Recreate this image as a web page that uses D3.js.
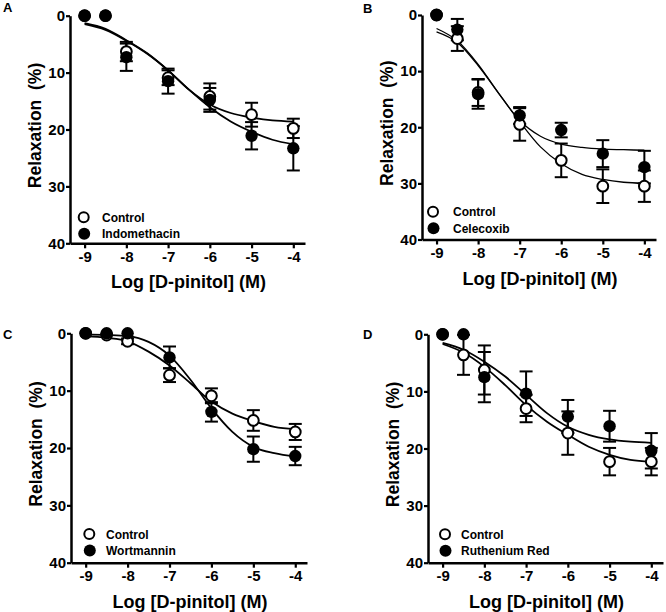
<!DOCTYPE html>
<html><head><meta charset="utf-8">
<script src="https://cdn.jsdelivr.net/npm/d3@7/dist/d3.min.js"></script>
<style>
html,body{margin:0;padding:0;background:#fff;}
svg{display:block;font-family:"Liberation Sans",Arial,sans-serif;font-weight:bold;}
</style></head>
<body>
<svg id="chart" width="666" height="612"></svg>
<script>
// ---- shared axes / doses ----
const xTicks = [-9, -8, -7, -6, -5, -4];
const yTicks = [0, 10, 20, 30, 40];
const doses = [-9, -8.5, -8, -7, -6, -5, -4];
const fitX = [-9, -8.5, -8, -7.5, -7, -6.5, -6, -5.5, -5, -4.5, -4];
const xTitle = "Log [D-pinitol] (M)";
const yTitle = "Relaxation  (%)";
const panelLetters = ["A", "B", "C", "D"];
const treatmentNames = ["Indomethacin", "Celecoxib", "Wortmannin", "Ruthenium Red"];

// ---- Panel A ----
const aControl    = [0, 0, 6.3, 10.9, 14.2, 17.4, 19.8];
const aControlErr = [0, 0, 1.7, 1.3, 2.3, 2.1, 1.7];
const aTreat      = [0, 0, 7.3, 11.5, 14.8, 21.1, 23.3];
const aTreatErr   = [0, 0, 2.4, 2.2, 2.1, 2.4, 3.9];
const aControlFit = [1.5, 2.5, 4.4, 6.7, 9.6, 13.0, 15.6, 17.1, 17.9, 18.4, 18.6];
const aTreatFit   = [1.3, 2.3, 4.3, 6.6, 9.6, 13.0, 16.1, 18.6, 20.4, 21.8, 22.6];

// ---- Panel B ----
const bControl    = [0, 4.2, 13.8, 19.5, 25.9, 30.5, 30.5];
const bControlErr = [0, 2.2, 2.4, 2.9, 3.0, 3.0, 2.8];
const bTreat      = [0, 2.6, 14.1, 17.9, 20.5, 24.7, 27.1];
const bTreatErr   = [0, 1.9, 2.6, 1.5, 1.3, 2.4, 2.9];
const bControlFit = [3.0, 4.9, 9.0, 14.0, 19.0, 23.5, 26.5, 28.4, 29.3, 29.8, 30.0];
const bTreatFit   = [2.4, 4.6, 8.8, 14.0, 18.8, 21.6, 23.0, 23.6, 23.9, 24.0, 24.1];

// ---- Panel C ----
const cControl    = [0, 0.3, 1.4, 7.3, 10.9, 15.2, 17.2];
const cControlErr = [0, 0, 0.5, 1.2, 1.3, 1.8, 1.4];
const cTreat      = [0, 0, 0, 4.2, 13.7, 20.2, 21.4];
const cTreatErr   = [0, 0, 0, 1.9, 1.7, 2.2, 1.6];
const cControlFit = [0.5, 0.8, 1.4, 3.2, 5.6, 8.7, 11.9, 14.0, 15.3, 16.3, 16.7];
const cTreatFit   = [0.2, 0.3, 0.5, 1.5, 3.9, 8.1, 13.1, 17.2, 19.8, 20.9, 21.5];

// ---- Panel D ----
const dControl    = [0, 3.6, 6.25, 13.0, 17.3, 22.3, 22.3];
const dControlErr = [0, 3.5, 4.3, 2.4, 3.8, 2.4, 2.4];
const dTreat      = [0, 0, 7.5, 10.4, 14.4, 16.1, 20.4];
const dTreatErr   = [0, 0, 4.4, 3.9, 2.9, 2.7, 3.1];
const dControlFit = [1.7, 3.2, 5.7, 8.9, 12.4, 15.3, 17.6, 19.7, 21.1, 22.0, 22.3];
const dTreatFit   = [1.5, 2.7, 4.8, 7.4, 10.6, 13.8, 16.2, 17.6, 18.4, 18.8, 19.0];

// ---- layout (positions only) ----
const layouts = [
  {x0: 70,  x1: 305, y0: 15.7,  y1: 243.3, letter: [3, 12],   leg: [83.7, 217.3, 102], curveW: 1.8},
  {x0: 422, x1: 656, y0: 15,    y1: 239.5, letter: [363, 13], leg: [433, 211.7, 453], curveW: 1.3},
  {x0: 71,  x1: 307, y0: 333.3, y1: 562.7, letter: [3, 339],  leg: [89.3, 534, 106], curveW: 1.8},
  {x0: 428, x1: 663, y0: 334.3, y1: 562.7, letter: [363, 339],leg: [445, 534.3, 461], curveW: 1.8}
];

const series = [
  [aControl, aControlErr, aTreat, aTreatErr, aControlFit, aTreatFit],
  [bControl, bControlErr, bTreat, bTreatErr, bControlFit, bTreatFit],
  [cControl, cControlErr, cTreat, cTreatErr, cControlFit, cTreatFit],
  [dControl, dControlErr, dTreat, dTreatErr, dControlFit, dTreatFit]
];

const svg = d3.select("#chart");
const xDomain = [-9.35, -3.72];
const fmt = d => String(d);

layouts.forEach((L, i) => {
  const [ctl, ctlErr, trt, trtErr, ctlFit, trtFit] = series[i];
  const x = d3.scaleLinear().domain(xDomain).range([L.x0, L.x1]);
  const y = d3.scaleLinear().domain([0, 40]).range([L.y0, L.y1]);
  const g = svg.append("g");

  // axes
  const yAxis = d3.axisLeft(y).tickValues(yTicks).tickFormat(fmt).tickSize(4).tickSizeOuter(0).tickPadding(1);
  const xAxis = d3.axisBottom(x).tickValues(xTicks).tickFormat(fmt).tickSize(5).tickSizeOuter(0).tickPadding(3);
  const ya = g.append("g").attr("transform", `translate(${L.x0},0)`).call(yAxis);
  const xa = g.append("g").attr("transform", `translate(0,${L.y1})`).call(xAxis);
  [ya, xa].forEach(a => {
    a.select(".domain").attr("stroke", "#000").attr("stroke-width", 2.5);
    a.selectAll(".tick line").attr("stroke", "#000").attr("stroke-width", 2.2);
    a.selectAll(".tick text").attr("fill", "#000")
      .style("font-size", "15px").style("font-weight", "bold")
      .style("font-family", '"Liberation Sans", Arial, sans-serif');
  });

  // titles
  g.append("text")
    .attr("x", (L.x0 + L.x1) / 2 + 1).attr("y", L.y1 + 45)
    .attr("text-anchor", "middle").style("font-size", "18px")
    .text(xTitle);
  g.append("text")
    .attr("transform", `translate(${L.x0 - 29},${(L.y0 + L.y1) / 2 - 4}) rotate(-90)`)
    .attr("text-anchor", "middle").style("font-size", "17.5px").style("white-space", "pre")
    .text(yTitle);
  g.append("text").attr("x", L.letter[0]).attr("y", L.letter[1])
    .style("font-size", "13px").text(panelLetters[i]);

  // fitted curves
  const line = d3.line().x(d => x(d[0])).y(d => y(d[1])).curve(d3.curveMonotoneX);
  [ctlFit, trtFit].forEach(fit => {
    g.append("path").datum(fitX.map((v, k) => [v, fit[k]]))
      .attr("d", line).attr("fill", "none").attr("stroke", "#000")
      .attr("stroke-width", L.curveW);
  });

  // error bars
  const cap = 6.5;
  [[ctl, ctlErr], [trt, trtErr]].forEach(([vals, errs]) => {
    const eg = g.append("g").attr("stroke", "#000").attr("stroke-width", 2);
    doses.forEach((d, k) => {
      if (!errs[k]) return;
      const cx = x(d), lo = y(vals[k] - errs[k]), hi = y(vals[k] + errs[k]);
      eg.append("line").attr("x1", cx).attr("x2", cx).attr("y1", lo).attr("y2", hi);
      eg.append("line").attr("x1", cx - cap).attr("x2", cx + cap).attr("y1", lo).attr("y2", lo);
      eg.append("line").attr("x1", cx - cap).attr("x2", cx + cap).attr("y1", hi).attr("y2", hi);
    });
  });

  // markers: control (open) first, treatment (filled) on top
  g.append("g").selectAll("circle").data(doses.map((d, k) => [d, ctl[k]])).join("circle")
    .attr("cx", d => x(d[0])).attr("cy", d => y(d[1])).attr("r", 5.4)
    .attr("fill", "#fff").attr("stroke", "#000").attr("stroke-width", 2);
  g.append("g").selectAll("circle").data(doses.map((d, k) => [d, trt[k]])).join("circle")
    .attr("cx", d => x(d[0])).attr("cy", d => y(d[1])).attr("r", 6.2)
    .attr("fill", "#000");

  // legend
  const [lx, ly, tx] = L.leg;
  const lg = g.append("g");
  lg.append("circle").attr("cx", lx).attr("cy", ly).attr("r", 5).attr("fill", "#fff")
    .attr("stroke", "#000").attr("stroke-width", 2);
  lg.append("circle").attr("cx", lx + 0.5).attr("cy", ly + 16.5).attr("r", 6).attr("fill", "#000");
  lg.append("text").attr("x", tx).attr("y", ly + 4.5).style("font-size", "12px").text("Control");
  lg.append("text").attr("x", tx).attr("y", ly + 21).style("font-size", "12px").text(treatmentNames[i]);
});
</script>
</body></html>
